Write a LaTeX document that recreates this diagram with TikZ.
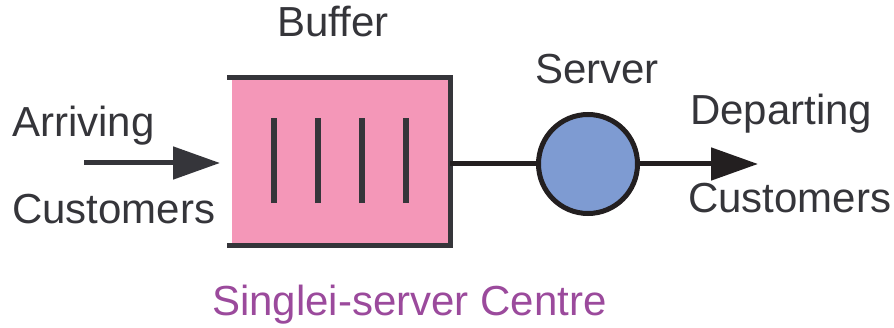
\documentclass[tikz,border=0pt]{standalone}
\usepackage{fontspec}
\setmainfont{Liberation Sans}
\usetikzlibrary{arrows.meta}
\definecolor{ink}{HTML}{35353A}
\definecolor{deep}{HTML}{231F20}
\definecolor{bufpink}{HTML}{F497B8}
\definecolor{srvblue}{HTML}{7E9BD2}
\definecolor{labpurple}{HTML}{9B4A9C}
\begin{document}
\begin{tikzpicture}[x=1pt,y=1pt,
  lab/.style={inner sep=0pt,anchor=base west,text=ink,font=\fontsize{42}{46}\selectfont},
  edge/.style={draw=ink,line width=5pt},
  flow/.style={line width=5pt,-{Triangle[length=47pt,width=32pt]}},
  tick/.style={draw=ink,line width=5.5pt}]
\useasboundingbox (0,0) rectangle (894,327);
% buffer body, open on the arrival side
\fill[bufpink] (232,83) rectangle (448,247);
\draw[edge] (227,249.5) -- (450,249.5) -- (450,81.5) -- (227,81.5);
\foreach \x in {274,318,362,406} \draw[tick] (\x,124) -- (\x,209);
\coordinate (bufin) at (220,164);
\coordinate (bufout) at (450,163);
\coordinate (src) at (84,164);
\coordinate (sink) at (758,163);
% server
\node[circle,draw=deep,fill=srvblue,line width=5pt,minimum size=99pt,inner sep=0pt] (srv) at (588,163) {};
\draw[flow,draw=ink] (src) -- (bufin);
\draw[edge,draw=deep] (bufout) -- (srv.west);
\draw[flow,draw=deep] (srv.east) -- (sink);
% labels
\node[lab] (lbuf) at (277,290) {Buffer};
\node[lab] (lsrv) at (535,243) {Server};
\node[lab] (larr1) at (12,190) {Arriving};
\node[lab] (larr2) at (12,104) {Customers};
\node[lab] (ldep1) at (690,202) {Departing};
\node[lab] (ldep2) at (688,114) {Customers};
\node[lab,text=labpurple] (lcentre) at (212,12) {Singlei-server Centre};
\end{tikzpicture}
\end{document}
